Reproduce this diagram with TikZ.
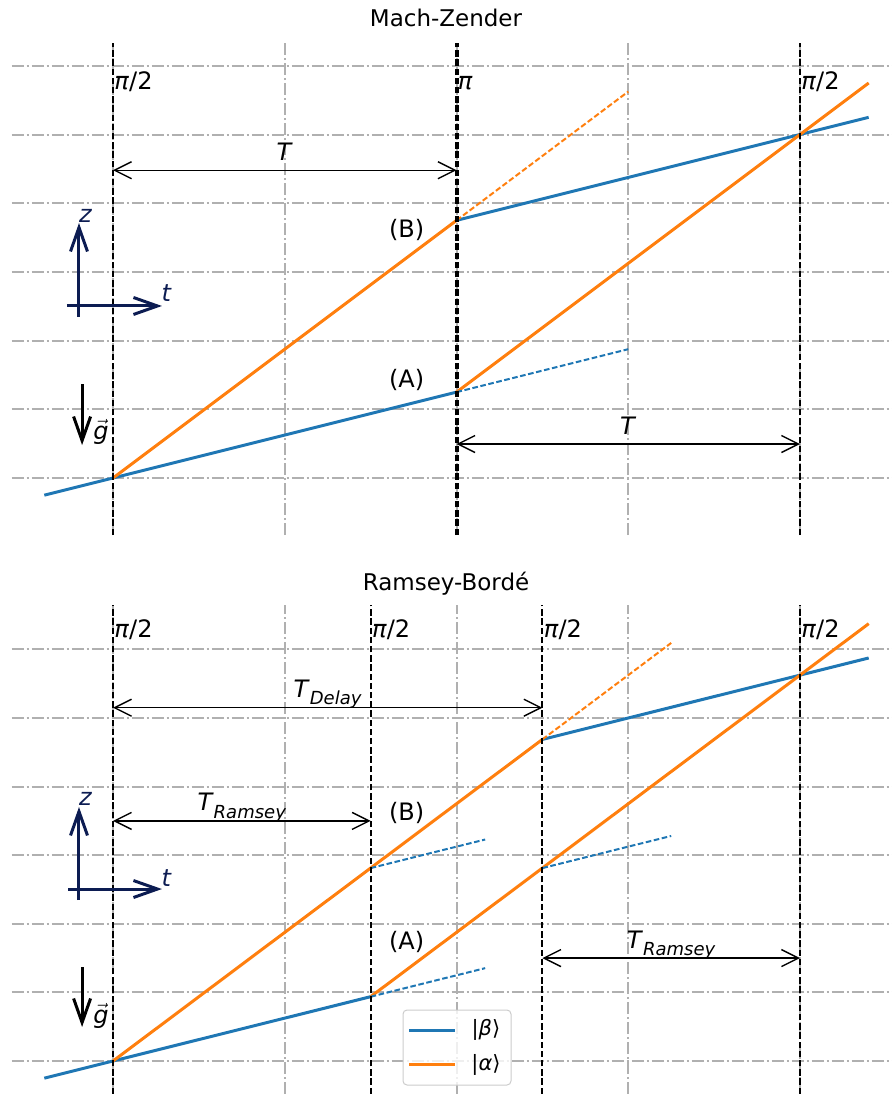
\documentclass[tikz,border=0pt]{standalone}
\usepackage{amsmath}
\usepackage{fontspec}
\setmainfont{DejaVu Sans}
\usepackage{xcolor}
\usepackage{tikz}
\usetikzlibrary{arrows.meta, positioning}

\definecolor{statebeta}{HTML}{1F77B4}
\definecolor{statealpha}{HTML}{FF7F0E}
\definecolor{gridgray}{HTML}{B0B0B0}
\definecolor{legendgray}{HTML}{CCCCCC}
\definecolor{axisnavy}{HTML}{0C1C52}

\begin{document}
\begin{tikzpicture}[x=0.5pt, y=-0.5pt,
  gridline/.style={draw=gridgray, line width=1pt, dash pattern=on 6pt off 1.5pt on 1pt off 1.5pt},
  pulse/.style={draw=black, line width=1pt, dash pattern=on 3.2pt off 1.4pt},
  beam/.style={line width=1.5pt},
  ext/.style={line width=1pt, dash pattern=on 2.8pt off 1.3pt},
  dim/.style={{Straight Barb[length=8.5pt, width=8.5pt]}-{Straight Barb[length=8.5pt, width=8.5pt]}, line width=0.7pt},
  axisarrow/.style={-{Straight Barb[length=12pt, width=8.5pt]}, line width=1.5pt},
  pulselabel/.style={anchor=base west, inner sep=0pt, xshift=0.5pt, font=\fontsize{12}{14}\selectfont},
  dimlabel/.style={anchor=base, inner sep=0pt, yshift=5pt, font=\fontsize{12}{14}\selectfont},
  portlabel/.style={inner sep=0pt, font=\fontsize{12}{14}\selectfont},
  axislabel/.style={inner sep=0pt, font=\fontsize{12}{14}\selectfont},
  titlelabel/.style={anchor=base, inner sep=0pt, font=\fontsize{11.5}{14}\selectfont},
  keybox/.style={draw=legendgray, line width=0.5pt, rounded corners=2pt, fill=white, fill opacity=0.8, minimum width=54pt, minimum height=37.5pt, inner sep=0pt},
  keylabel/.style={inner sep=0pt, font=\fontsize{10.5}{12}\selectfont}
]
  \useasboundingbox (0,0) rectangle (892,1094);

  % ---------------- Mach-Zender ----------------
  \node[titlelabel] (mztitle) at (446,26) {Mach-Zender};
  \begin{scope}[shift={(113,478)}, x=85.875pt, y=34.35pt]
    \foreach \z in {0,...,6} \draw[gridline] (-0.59,\z) -- (4.55,\z);
    \foreach \t in {0,...,4} \draw[gridline] (\t,-0.83) -- (\t,6.33);

    \coordinate (mz0) at (-0.4,-0.25);
    \coordinate (mzS) at (0,0);
    \coordinate (mzA) at (2,1.25);
    \coordinate (mzB) at (2,3.75);
    \coordinate (mzC) at (4,5);
    \coordinate (mzEb) at (4.4,5.25);
    \coordinate (mzEa) at (4.4,5.75);
    \coordinate (mzXa) at (3,5.625);
    \coordinate (mzXb) at (3,1.875);

    \draw[beam, statebeta] (mz0) -- (mzS) -- (mzA);
    \draw[beam, statebeta] (mzB) -- (mzC) -- (mzEb);
    \draw[beam, statealpha] (mzS) -- (mzB);
    \draw[beam, statealpha] (mzA) -- (mzC) -- (mzEa);
    \draw[ext, statealpha] (mzB) -- (mzXa);
    \draw[ext, statebeta] (mzA) -- (mzXb);

    \draw[pulse] (0,-0.83) -- (0,6.33);
    \draw[pulse, line width=2pt] (2,-0.83) -- (2,6.33);
    \draw[pulse] (4,-0.83) -- (4,6.33);
    \node[pulselabel] (mzp1) at (0,5.66) {\textit{π}/2};
    \node[pulselabel] (mzp2) at (2,5.66) {\textit{π}};
    \node[pulselabel] (mzp3) at (4,5.66) {\textit{π}/2};

    \coordinate (mzT1a) at (0,4.48);
    \coordinate (mzT1b) at (2,4.48);
    \draw[dim] (mzT1a) -- node[dimlabel] (mzT1) {\textit{T}} (mzT1b);
    \coordinate (mzT2a) at (2,0.495);
    \coordinate (mzT2b) at (4,0.495);
    \draw[dim] (mzT2a) -- node[dimlabel] (mzT2) {\textit{T}} (mzT2b);

    \node[portlabel] (mzlabB) at (1.71,3.61) {(B)};
    \node[portlabel] (mzlabA) at (1.71,1.43) {(A)};

    \coordinate (mzz0) at (-0.198,2.344);
    \coordinate (mzz1) at (-0.198,3.712);
    \coordinate (mzt0) at (-0.268,2.504);
    \coordinate (mzt1) at (0.285,2.504);
    \draw[axisarrow, axisnavy] (mzz0) -- (mzz1);
    \draw[axisarrow, axisnavy] (mzt0) -- (mzt1);
    \node[axislabel, text=axisnavy] (mzzl) at (-0.160,3.82) {\textit{z}};
    \node[axislabel, text=axisnavy] (mztl) at (0.312,2.69) {\textit{t}};
    \coordinate (mzg0) at (-0.18,1.368);
    \coordinate (mzg1) at (-0.18,0.48);
    \draw[axisarrow, black] (mzg0) -- (mzg1);
    \node[axislabel] (mzgl) at (-0.070,0.67) {$\vec{\text{\itshape g}}$};
  \end{scope}

  % ---------------- Ramsey-Borde ----------------
  \node[titlelabel] (rbtitle) at (446,590) {Ramsey-Bordé};
  \begin{scope}[shift={(113,1061)}, x=85.875pt, y=34.3pt]
    \foreach \z in {0,...,6} \draw[gridline] (-0.59,\z) -- (4.55,\z);
    \foreach \t in {0,...,4} \draw[gridline] (\t,-0.48) -- (\t,6.65);

    \coordinate (rb0) at (-0.4,-0.25);
    \coordinate (rbS) at (0,0);
    \coordinate (rbA) at (1.5,0.9375);
    \coordinate (rbB) at (1.5,2.8125);
    \coordinate (rbC) at (2.5,2.8125);
    \coordinate (rbD) at (2.5,4.6875);
    \coordinate (rbE) at (4,5.625);
    \coordinate (rbEb) at (4.4,5.875);
    \coordinate (rbEa) at (4.4,6.375);
    \coordinate (rbXb1) at (2.167,1.354);
    \coordinate (rbXb2) at (2.167,3.229);
    \coordinate (rbXb3) at (3.25,3.281);
    \coordinate (rbXa) at (3.25,6.094);

    \draw[beam, statebeta] (rb0) -- (rbS) -- (rbA);
    \draw[beam, statebeta] (rbD) -- (rbE) -- (rbEb);
    \draw[beam, statealpha] (rbS) -- (rbB) -- (rbD);
    \draw[beam, statealpha] (rbA) -- (rbC) -- (rbE) -- (rbEa);
    \draw[ext, statebeta] (rbA) -- (rbXb1);
    \draw[ext, statebeta] (rbB) -- (rbXb2);
    \draw[ext, statebeta] (rbC) -- (rbXb3);
    \draw[ext, statealpha] (rbD) -- (rbXa);

    \foreach \t/\n in {0/1, 1.5/2, 2.5/3, 4/4} {
      \draw[pulse] (\t,-0.48) -- (\t,6.65);
      \node[pulselabel] (rbp\n) at (\t,6.17) {\textit{π}/2};
    }

    \coordinate (rbDa) at (0,5.15);
    \coordinate (rbDb) at (2.5,5.15);
    \draw[dim] (rbDa) -- node[dimlabel] (rbTd) {\textit{T}\raisebox{-0.3em}{\fontsize{9}{10}\selectfont\textit{Delay}}} (rbDb);
    \coordinate (rbR1a) at (0,3.50);
    \coordinate (rbR1b) at (1.5,3.50);
    \draw[dim] (rbR1a) -- node[dimlabel] (rbTr1) {\textit{T}\raisebox{-0.3em}{\fontsize{9}{10}\selectfont\textit{Ramsey}}} (rbR1b);
    \coordinate (rbR2a) at (2.5,1.50);
    \coordinate (rbR2b) at (4,1.50);
    \draw[dim] (rbR2a) -- node[dimlabel] (rbTr2) {\textit{T}\raisebox{-0.3em}{\fontsize{9}{10}\selectfont\textit{Ramsey}}} (rbR2b);

    \node[portlabel] (rblabB) at (1.71,3.61) {(B)};
    \node[portlabel] (rblabA) at (1.71,1.735) {(A)};

    \coordinate (rbz0) at (-0.198,2.347);
    \coordinate (rbz1) at (-0.198,3.703);
    \coordinate (rbt0) at (-0.262,2.507);
    \coordinate (rbt1) at (0.285,2.507);
    \draw[axisarrow, axisnavy] (rbz0) -- (rbz1);
    \draw[axisarrow, axisnavy] (rbt0) -- (rbt1);
    \node[axislabel, text=axisnavy] (rbzl) at (-0.160,3.82) {\textit{z}};
    \node[axislabel, text=axisnavy] (rbtl) at (0.312,2.665) {\textit{t}};
    \coordinate (rbg0) at (-0.18,1.370);
    \coordinate (rbg1) at (-0.18,0.496);
    \draw[axisarrow, black] (rbg0) -- (rbg1);
    \node[axislabel] (rbgl) at (-0.070,0.656) {$\vec{\text{\itshape g}}$};
  \end{scope}

  % legend
  \node[keybox] (key) at (457,1047.5) {};
  \coordinate (keyb0) at (409,1030);
  \coordinate (keyb1) at (455,1030);
  \coordinate (keya0) at (409,1064);
  \coordinate (keya1) at (455,1064);
  \draw[beam, statebeta] (keyb0) -- (keyb1);
  \draw[beam, statealpha] (keya0) -- (keya1);
  \node[keylabel] (keyb) at (486,1030) {|\textit{β}⟩};
  \node[keylabel] (keya) at (486,1065) {|\textit{α}⟩};
\end{tikzpicture}
\end{document}
